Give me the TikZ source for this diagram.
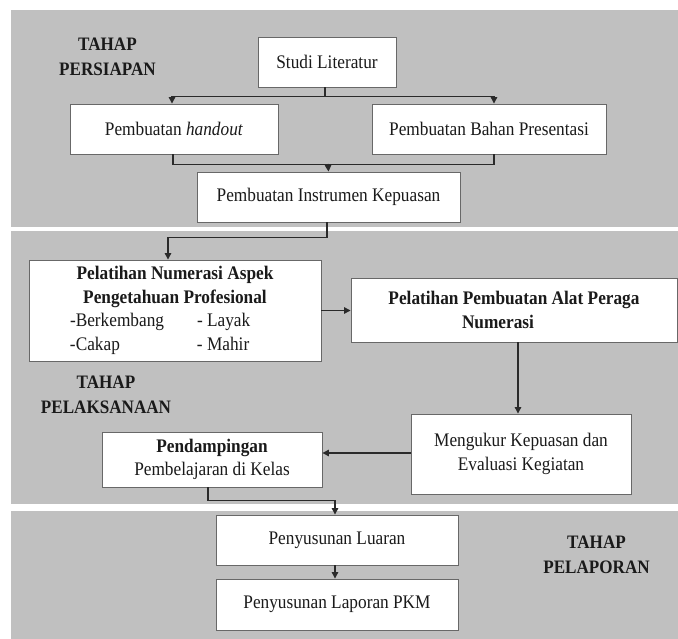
\documentclass[tikz,border=0pt]{standalone}
\usepackage{fontspec}
\setmainfont[FakeStretch=0.9]{Liberation Serif}
\usetikzlibrary{arrows.meta}
\definecolor{bandgray}{HTML}{C0C0C0}
\definecolor{boxline}{HTML}{686868}
\definecolor{connline}{HTML}{2A2A2A}
\definecolor{txt}{HTML}{1A1A1A}
\tikzset{
  box/.style={draw=boxline, fill=white, line width=0.9pt, inner sep=0pt, align=center,
    text=txt, font=\fontsize{19.2}{23.5}\selectfont},
  stagelabel/.style={align=center, text=txt, inner sep=0pt,
    font=\fontsize{19}{25}\selectfont\bfseries},
  conn/.style={draw=connline, line width=1.2pt},
  arrowc/.style={conn, -{Triangle[length=6.5pt,width=6.5pt]}},
}
\begin{document}
\begin{tikzpicture}[x=1pt,y=-1pt]
\useasboundingbox (0,0) rectangle (678,639);
% bands
\fill[bandgray] (11,10) rectangle (678,227);
\fill[bandgray] (11,231) rectangle (678,504);
\fill[bandgray] (11,511) rectangle (678,639);
% stage labels
\node[stagelabel] (lab1) at (107.5,57) {TAHAP\\PERSIAPAN};
\node[stagelabel] (lab2) at (106,395) {TAHAP\\PELAKSANAAN};
\node[stagelabel] (lab3) at (596.5,555) {TAHAP\\PELAPORAN};
% boxes
\node[box, minimum width=138pt, minimum height=50pt] (studi) at (327,62) {Studi Literatur};
\node[box, minimum width=208pt, minimum height=50pt] (handout) at (174,129) {Pembuatan \textit{handout}};
\node[box, minimum width=234pt, minimum height=50pt] (bahan) at (489,129) {Pembuatan Bahan Presentasi};
\node[box, minimum width=263pt, minimum height=50pt] (instrumen) at (328.5,197) {Pembuatan Instrumen Kepuasan};
\node[box, minimum width=292pt, minimum height=101pt] (pelnum) at (175,310.5)
  {\textbf{Pelatihan Numerasi Aspek}\\ \textbf{Pengetahuan Profesional}\\
   \makebox[292pt][l]{\hspace{41pt}\makebox[127pt][l]{-Berkembang}- Layak}\\
   \makebox[292pt][l]{\hspace{41pt}\makebox[127pt][l]{-Cakap}- Mahir}};
\node[box, minimum width=326pt, minimum height=64pt, font=\fontsize{19.2}{23.5}\selectfont\bfseries] (pelalat) at (514,310)
  {Pelatihan Pembuatan Alat Peraga\\Numerasi\rule{32pt}{0pt}};
\node[box, minimum width=220pt, minimum height=80pt] (mengukur) at (521,454) {Mengukur Kepuasan dan\\Evaluasi Kegiatan};
\node[box, minimum width=220pt, minimum height=55pt] (pendamp) at (212,459.5) {\textbf{Pendampingan}\\Pembelajaran di Kelas};
\node[box, minimum width=242pt, minimum height=50pt] (luaran) at (337,540) {Penyusunan Luaran};
\node[box, minimum width=242pt, minimum height=51pt] (laporan) at (337,604.5) {Penyusunan Laporan PKM};
% connectors
\draw[arrowc] ([xshift=-2pt]studi.south) -- ++(0,9) -| ([xshift=-2pt]handout.north);
\draw[arrowc] ([xshift=-2pt]studi.south) -- ++(0,9) -| ([xshift=5pt]bahan.north);
\draw[conn] ([xshift=-1pt]handout.south) -- ++(0,10) -| ([xshift=5pt]bahan.south);
\coordinate (merge) at (328,164);
\draw[arrowc] (merge) -- (instrumen.north);
\draw[arrowc] ([xshift=-1.5pt]instrumen.south) -- ++(0,15) -| ([xshift=-7pt]pelnum.north);
\draw[arrowc] (pelnum.east) -- (pelnum.east -| pelalat.west);
\draw[arrowc] ([xshift=-3pt]mengukur.north |- pelalat.south) -- ([xshift=-3pt]mengukur.north);
\draw[arrowc] ([yshift=1pt]mengukur.west) -- ([yshift=1pt]mengukur.west -| pendamp.east);
\draw[arrowc] ([xshift=-4pt]pendamp.south) -- ++(0,13) -| ([xshift=-2pt]luaran.north);
\draw[arrowc] ([xshift=-2pt]luaran.south) -- ([xshift=-2pt]laporan.north);
\end{tikzpicture}
\end{document}
